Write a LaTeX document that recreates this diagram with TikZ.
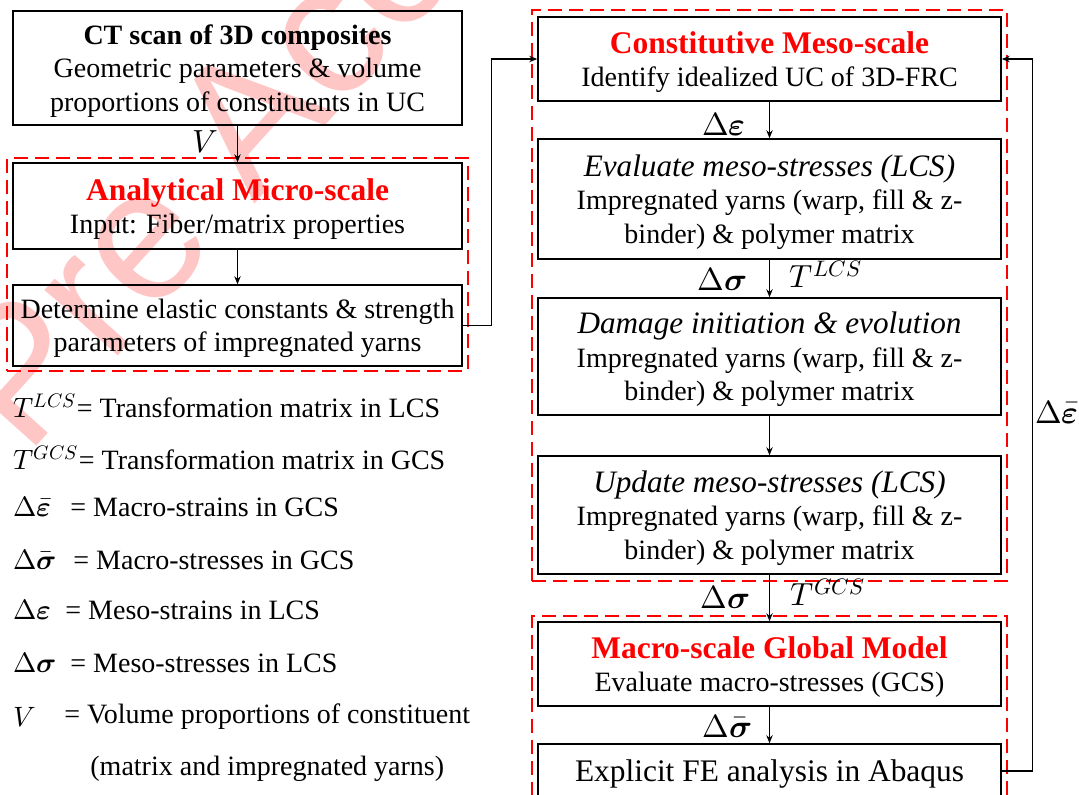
\documentclass[tikz,border=0pt]{standalone}
\usepackage{fontspec}
\usepackage{unicode-math}
\setmainfont{Liberation Serif}
\newfontfamily\stampfont{Liberation Sans}
\usetikzlibrary{arrows.meta,fit}

\definecolor{headred}{RGB}{255,0,0}
\definecolor{stamppink}{RGB}{255,198,198}

\newcommand{\headfont}{\bfseries\fontsize{15.75}{18}\selectfont}
\newcommand{\taskfont}{\itshape\fontsize{15.6}{17.5}\selectfont}

\tikzset{
  leftbox/.style={draw, line width=0.75pt, align=center, inner sep=0pt, text depth=0pt, minimum width=224.5pt},
  rightbox/.style={draw, line width=0.75pt, align=center, inner sep=0pt, text depth=0pt, minimum width=231.5pt},
  groupbox/.style={draw=headred, line width=1pt, dash pattern=on 7pt off 3.5pt, inner xsep=2.5pt},
  flow/.style={-{Stealth[length=4pt,width=3.2pt]}, line width=0.6pt},
  sym/.style={inner sep=0pt, font=\fontsize{16}{18}\selectfont},
  legend/.style={inner sep=0pt, anchor=west},
  stamp/.style={anchor=base west, rotate=48, text=stamppink, inner sep=0pt,
    font=\stampfont\fontsize{93}{93}\selectfont}
}

\begin{document}
\begin{tikzpicture}[x=0.5pt,y=0.5pt,yscale=-1,font=\fontsize{14}{16.75}\selectfont]
\useasboundingbox (0,0) rectangle (1079,794);
\clip (0,0) rectangle (1079,794);

% watermark
\node[stamp] (stamp) at (26,458) {Pre Accepted};

% left column
\node[leftbox, minimum height=57pt] (ctscan) at (237.5,68)
  {{\bfseries CT scan of 3D composites}\\Geometric parameters \& volume\\proportions of constituents in UC};
\node[leftbox, minimum height=43pt] (micro) at (237.5,206)
  {{\headfont\color{headred}Analytical Micro-scale}\\Input: Fiber/matrix properties};
\node[leftbox, minimum height=40.5pt] (elastic) at (237.5,325.5)
  {Determine elastic constants \& strength\\parameters of impregnated yarns};

% right column
\node[rightbox, minimum height=42pt] (meso) at (769.5,59)
  {{\headfont\color{headred}Constitutive Meso-scale}\\Identify idealized UC of 3D-FRC};
\node[rightbox, minimum height=60pt] (evalm) at (769.5,199)
  {{\taskfont Evaluate meso-stresses (LCS)}\\Impregnated yarns (warp, fill \& z-\\binder) \& polymer matrix};
\node[rightbox, minimum height=58.5pt] (damage) at (769.5,356.5)
  {{\taskfont Damage initiation \& evolution}\\Impregnated yarns (warp, fill \& z-\\binder) \& polymer matrix};
\node[rightbox, minimum height=59pt] (update) at (769.5,515)
  {{\taskfont Update meso-stresses (LCS)}\\Impregnated yarns (warp, fill \& z-\\binder) \& polymer matrix};
\node[rightbox, minimum height=42pt] (macro) at (769.5,664)
  {{\headfont\color{headred}Macro-scale Global Model}\\Evaluate macro-stresses (GCS)};
\node[rightbox, minimum height=27pt] (abaqus) at (769.5,771)
  {\fontsize{15.7}{18}\selectfont Explicit FE analysis in Abaqus};

% red dashed groups
\node[groupbox, inner ysep=2pt, fit=(micro)(elastic)] (microgroup) {};
\node[groupbox, inner ysep=3.25pt, fit=(meso)(update)] (mesogroup) {};
\node[groupbox, inner ysep=2.5pt, fit=(macro)(abaqus)] (macrogroup) {};

% connectors
\draw[flow] (ctscan) -- (micro);
\draw[flow] (micro) -- (elastic);
\draw[flow] (elastic.east) -- ++(29,0) |- (meso.west);
\draw[flow] (meso) -- (evalm);
\draw[flow] (evalm) -- (damage);
\draw[flow] (damage) -- (update);
\draw[flow] (update) -- (macro);
\draw[flow] (macro) -- (abaqus);
\draw[flow] (abaqus.east) -- ++(31,0) |- (meso.east);

% connector labels
\node[sym] (lblV) at (205,142) {$V$};
\node[sym] (lbleps) at (724,124) {$\Delta\symbfit{\varepsilon}$};
\node[sym] (lblsigA) at (722,279) {$\Delta\symbfit{\sigma}$};
\node[sym] (lblTlcs) at (826,274) {$T^{LCS}$};
\node[sym] (lblsigB) at (725,597) {$\Delta\symbfit{\sigma}$};
\node[sym] (lblTgcs) at (828,592) {$T^{GCS}$};
\node[sym] (lblsigbar) at (727,726) {$\Delta\bar{\symbfit{\sigma}}$};
\node[sym] (lblepsbar) at (1057,412) {$\Delta\bar{\symbfit{\varepsilon}}$};

% legend
\node[legend] (keyTl) at (13,406) {$T^{LCS}$= Transformation matrix in LCS};
\node[legend] (keyTg) at (13,458) {$T^{GCS}$= Transformation matrix in GCS};
\node[legend] (keyEbar) at (13,507) {$\Delta\bar{\symbfit{\varepsilon}}$};
\node[legend] (keyEbarT) at (70,507) {= Macro-strains in GCS};
\node[legend] (keySbar) at (13,560) {$\Delta\bar{\symbfit{\sigma}}$};
\node[legend] (keySbarT) at (73,560) {= Macro-stresses in GCS};
\node[legend] (keyE) at (13,610) {$\Delta\symbfit{\varepsilon}$};
\node[legend] (keyET) at (65,610) {= Meso-strains in LCS};
\node[legend] (keyS) at (13,663) {$\Delta\symbfit{\sigma}$};
\node[legend] (keyST) at (70,663) {= Meso-stresses in LCS};
\node[legend] (keyV) at (13,717) {$V$};
\node[legend] (keyVT) at (64,717) {= Volume proportions of constituent};
\node[legend] (keyVT2) at (90,769) {(matrix and impregnated yarns)};

\end{tikzpicture}
\end{document}
